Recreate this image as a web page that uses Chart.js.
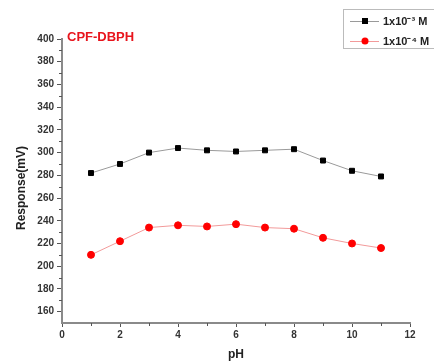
<!DOCTYPE html>
<html>
<head>
<meta charset="utf-8">
<script src="https://cdn.jsdelivr.net/npm/chart.js@4"></script>
<style>
  html, body { margin: 0; padding: 0; background: #fff; }
  #wrap { width: 434px; height: 362px; }
</style>
</head>
<body>
<div id="wrap"><canvas id="phChart" width="434" height="362"></canvas></div>
<script>
// pH values and electrode response (mV) for the two concentrations
const phValues = [1, 2, 3, 4, 5, 6, 7, 8, 9, 10, 11];
const resp1e3 = [282, 290, 300, 304, 302, 301, 302, 303, 293, 284, 279];
const resp1e4 = [210, 222, 234, 236, 235, 237, 234, 233, 225, 220, 216];
const seriesLabels = ['1x10\u207B\u00B3 M', '1x10\u207B\u2074 M'];
const xMajor = [0, 2, 4, 6, 8, 10, 12];
const yMajor = [160, 180, 200, 220, 240, 260, 280, 300, 320, 340, 360, 380, 400];

const axisGray = '#8a8a8a';
const fontFamily = '"Liberation Sans", Arial, sans-serif';
const labelFont = { family: fontFamily, size: 10, weight: 'bold' };

// small ticks between the labelled ones
const minorTicks = {
    id: 'minorTicks',
    afterDraw(chart) {
        const ctx = chart.ctx;
        const x = chart.scales.x, y = chart.scales.y;
        ctx.save();
        ctx.strokeStyle = '#555';
        ctx.lineWidth = 1;
        ctx.beginPath();
        for (let v = 170; v < 400; v += 20) {
            const py = Math.round(y.getPixelForValue(v)) + 0.5;
            ctx.moveTo(x.left - 3, py);
            ctx.lineTo(x.left, py);
        }
        for (let v = 1; v < 12; v += 2) {
            const px = Math.round(x.getPixelForValue(v)) + 0.5;
            ctx.moveTo(px, y.bottom);
            ctx.lineTo(px, y.bottom + 3);
        }
        ctx.stroke();
        ctx.restore();
    }
};

// axis titles and the sample name
const textBits = {
    id: 'textBits',
    afterDraw(chart) {
        const ctx = chart.ctx;
        const area = chart.chartArea;
        ctx.save();
        ctx.textAlign = 'center';
        ctx.textBaseline = 'middle';
        ctx.fillStyle = '#222';
        ctx.font = 'bold 12px ' + fontFamily;
        ctx.fillText('pH', (area.left + area.right) / 2, 355);
        ctx.save();
        ctx.translate(22, 188);
        ctx.rotate(-Math.PI / 2);
        ctx.fillText('Response(mV)', 0, 0);
        ctx.restore();
        ctx.textAlign = 'left';
        ctx.fillStyle = '#e8141c';
        ctx.font = 'bold 13px ' + fontFamily;
        ctx.fillText('CPF-DBPH', 67, 37);
        ctx.restore();
    }
};

// boxed legend in the top right
const boxLegend = {
    id: 'boxLegend',
    afterDraw(chart) {
        const ctx = chart.ctx;
        const left = 343, top = 9, rowH = 20;
        ctx.save();
        ctx.fillStyle = '#fff';
        ctx.strokeStyle = '#bbb';
        ctx.lineWidth = 1;
        ctx.fillRect(left, top, 100, 39);
        ctx.strokeRect(left + 0.5, top + 0.5, 100, 39);
        chart.data.datasets.forEach((ds, i) => {
            const cy = top + 12 + i * rowH;
            ctx.strokeStyle = ds.borderColor;
            ctx.lineWidth = 1;
            ctx.beginPath();
            ctx.moveTo(left + 7, cy + 0.5);
            ctx.lineTo(left + 36, cy + 0.5);
            ctx.stroke();
            ctx.fillStyle = ds.pointBackgroundColor;
            if (ds.pointStyle === 'rect') {
                ctx.fillRect(left + 19, cy - 3, 6, 6);
            } else {
                ctx.beginPath();
                ctx.arc(left + 22, cy, 3.5, 0, Math.PI * 2);
                ctx.fill();
            }
            ctx.fillStyle = '#222';
            ctx.font = 'bold 11px ' + fontFamily;
            ctx.textBaseline = 'middle';
            ctx.fillText(ds.label, left + 40, cy + 1);
        });
        ctx.restore();
    }
};

const ctx = document.getElementById('phChart').getContext('2d');
new Chart(ctx, {
    type: 'line',
    data: {
        datasets: [{
            label: seriesLabels[0],
            data: phValues.map((p, i) => ({ x: p, y: resp1e3[i] })),
            borderColor: '#9a9a9a',
            borderWidth: 1,
            pointStyle: 'rect',
            pointRadius: 3.5,
            pointBackgroundColor: '#000',
            pointBorderColor: '#000',
            tension: 0
        }, {
            label: seriesLabels[1],
            data: phValues.map((p, i) => ({ x: p, y: resp1e4[i] })),
            borderColor: '#f29a9a',
            borderWidth: 1,
            pointStyle: 'circle',
            pointRadius: 3.5,
            pointBackgroundColor: '#ff0000',
            pointBorderColor: '#ff0000',
            tension: 0
        }]
    },
    options: {
        responsive: false,
        animation: false,
        layout: { padding: { top: 39, right: 24, left: 0, bottom: 0 } },
        plugins: {
            legend: { display: false },
            tooltip: { enabled: false }
        },
        scales: {
            x: {
                type: 'linear',
                min: 0,
                max: 12,
                afterBuildTicks: s => { s.ticks = xMajor.map(v => ({ value: v })); },
                afterFit: s => { s.height = 39; },
                grid: { drawOnChartArea: false, tickLength: 4, tickColor: '#555' },
                border: { color: axisGray, width: 2 },
                ticks: { color: '#333', font: labelFont, padding: 2, maxRotation: 0 }
            },
            y: {
                min: 150,
                max: 400,
                afterBuildTicks: s => { s.ticks = yMajor.map(v => ({ value: v })); },
                afterFit: s => { s.width = 62; },
                grid: { drawOnChartArea: false, tickLength: 5, tickColor: '#555' },
                border: { color: axisGray, width: 2 },
                ticks: { color: '#333', font: labelFont, padding: 3 }
            }
        }
    },
    plugins: [minorTicks, textBits, boxLegend]
});
</script>
</body>
</html>
